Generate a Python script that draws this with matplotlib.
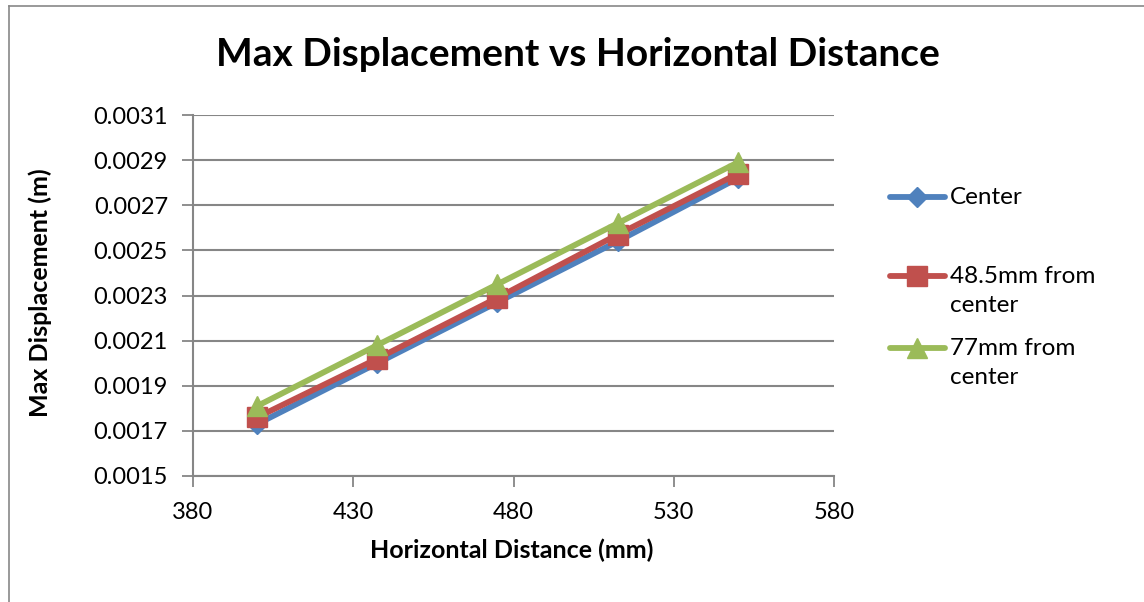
import matplotlib
matplotlib.use("Agg")
import matplotlib.pyplot as plt
from matplotlib.lines import Line2D

# data
distance = [400, 437.5, 475, 512.5, 550]
center = [0.00173, 0.00200, 0.00227, 0.00254, 0.00282]
off_48 = [0.00176, 0.00202, 0.00229, 0.00257, 0.00284]
off_77 = [0.00181, 0.00208, 0.00235, 0.00262, 0.00289]
names = ["Center", "48.5mm from\ncenter", "77mm from\ncenter"]

xticks = [380, 430, 480, 530, 580]
yticks = [0.0015, 0.0017, 0.0019, 0.0021, 0.0023, 0.0025, 0.0027, 0.0029, 0.0031]

blue = "#4F81BD"
red = "#C0504D"
green = "#9BBB59"
grid = "#868686"

plt.rcParams["font.family"] = ["Lato", "DejaVu Sans"]

fig = plt.figure(figsize=(11.44, 6.02), dpi=100)
ax = fig.add_axes([193 / 1144, 1 - 476 / 602, (834 - 193) / 1144, (476 - 115) / 602])

styles = [(center, blue, "D", 10), (off_48, red, "s", 14), (off_77, green, "^", 14)]
for vals, col, mk, ms in styles:
    ax.plot(distance, vals, color=col, lw=4.2, marker=mk, ms=ms, mec=col, mfc=col,
            solid_capstyle="round", clip_on=False, zorder=3)

ax.set_xlim(380, 580)
ax.set_ylim(0.0015, 0.0031)
ax.set_xticks(xticks)
ax.set_yticks(yticks)
ax.set_yticklabels(["%.4f" % v for v in yticks])
ax.tick_params(labelsize=17, color=grid, length=8, width=1.3, direction="out")
ax.tick_params(axis="y", pad=10)
ax.tick_params(axis="x", pad=11)
ax.yaxis.grid(True, color=grid, lw=1.5)
ax.set_axisbelow(True)
for s in ["top", "right"]:
    ax.spines[s].set_visible(False)
for s in ["left", "bottom"]:
    ax.spines[s].set_color(grid)
    ax.spines[s].set_linewidth(1.5)

fig.text(578 / 1144, 1 - 55 / 602, "Max Displacement vs Horizontal Distance",
         ha="center", va="center", fontsize=28, fontweight="bold")
fig.text(512 / 1144, 1 - 550 / 602, "Horizontal Distance (mm)",
         ha="center", va="center", fontsize=18, fontweight="bold")
fig.text(40 / 1144, 1 - 293 / 602, "Max Displacement (m)", rotation=90,
         ha="center", va="center", fontsize=18, fontweight="bold")

# legend drawn by hand so the handle sits on the first text line, as in Excel
leg_y = [197, 276, 348]
for (vals, col, mk, ms), name, y in zip(styles, names, leg_y):
    yf = 1 - y / 602
    fig.add_artist(Line2D([890 / 1144, 945 / 1144], [yf, yf], color=col, lw=4.2,
                          solid_capstyle="round", transform=fig.transFigure))
    fig.add_artist(Line2D([917 / 1144], [yf], color=col, marker=mk, ms=ms, mec=col,
                          mfc=col, transform=fig.transFigure))
    fig.text(950 / 1144, 1 - (y - 10) / 602, name, ha="left", va="top", fontsize=17.5,
             linespacing=1.5, transform=fig.transFigure)

# chart frame (only left and top are inside the picture)
fig.add_artist(Line2D([8.5 / 1144, 8.5 / 1144], [0, 1 - 5.5 / 602], color="#888888", lw=1.2))
fig.add_artist(Line2D([8.5 / 1144, 1], [1 - 5.5 / 602, 1 - 5.5 / 602], color="#888888", lw=1.2))

fig.savefig("out.png", dpi=100)
